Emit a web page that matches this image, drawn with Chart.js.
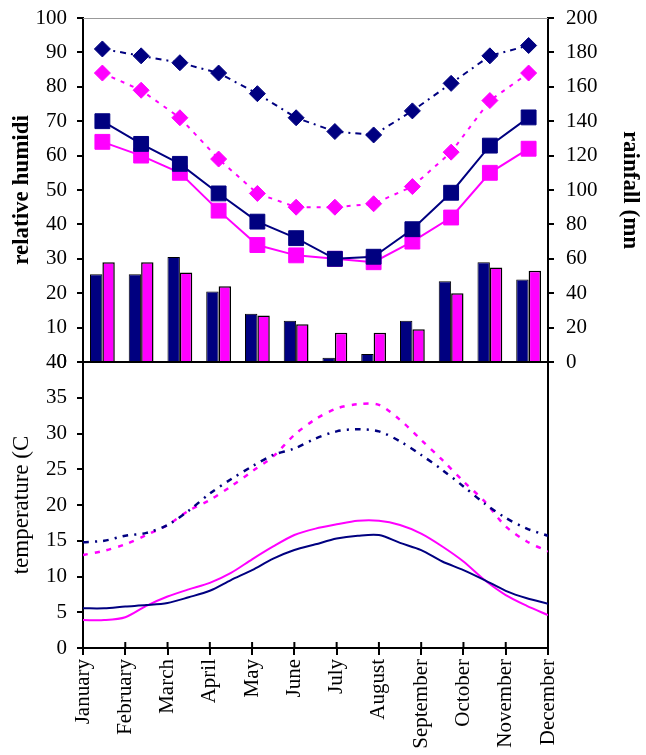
<!DOCTYPE html>
<html>
<head>
<meta charset="utf-8">
<script src="https://cdn.jsdelivr.net/npm/chart.js@4"></script>
<style>
    body { margin: 0; background: #fff; }
    #wrap { position: relative; width: 646px; height: 755px; }
    canvas { position: absolute; left: 0; }
    #top-chart { top: 0; }
    #bottom-chart { top: 340px; }
</style>
</head>
<body>
<div id="wrap">
    <canvas id="top-chart" width="646" height="380"></canvas>
    <canvas id="bottom-chart" width="646" height="415"></canvas>
</div>
<script>
const NAVY = "#000080";
const PINK = "#ff00ff";
const FONT = "'Liberation Serif', 'Times New Roman', serif";
const TICK_SIZE = 21;
const TITLE_SIZE = 23;

const months = ["January", "February", "March", "April", "May", "June", "July", "August", "September", "October", "November", "December"];

// rainfall (mm), right axis
const rainNavy = [51, 51, 61, 41, 28, 24, 2.5, 4.6, 24, 47, 58, 48];
const rainPink = [58, 58, 52, 44, 27, 22, 17, 17, 19, 40, 55, 53];

// relative humidity (%), left axis
const humNavyHigh = [91, 89, 87, 84, 78, 71, 67, 66, 73, 81, 89, 92];
const humPinkHigh = [84, 79, 71, 59, 49, 45, 45, 46, 51, 61, 76, 84];
const humNavyLow = [70, 63.4, 57.6, 49, 40.8, 36, 30, 30.6, 38.6, 49.2, 62.9, 71.1];
const humPinkLow = [64, 60, 55, 44, 34, 31, 30, 29, 35, 42, 55, 62];

// temperature (C), read every half month, position in months from January
const tempPos = [0, 0.5, 1, 1.5, 2, 2.5, 3, 3.5, 4, 4.5, 5, 5.5, 6, 6.5, 7, 7.5, 8, 8.5, 9, 9.5, 10, 10.5, 11];
const tempNavyMax = [14.8, 15.0, 15.7, 16.1, 17.2, 19.2, 21.6, 23.6, 25.4, 27.0, 27.9, 29.3, 30.3, 30.6, 30.3, 28.9, 27.0, 24.9, 22.6, 20.2, 18.2, 16.7, 15.7];
const tempPinkMax = [13.0, 13.6, 14.5, 15.8, 17.2, 19.2, 20.7, 22.6, 24.7, 26.8, 29.8, 32.0, 33.5, 34.1, 34.0, 31.9, 29.1, 26.3, 23.3, 20.5, 17.0, 14.9, 13.5];
const tempNavyMin = [5.55, 5.55, 5.8, 6.0, 6.3, 7.1, 8.0, 9.5, 10.9, 12.5, 13.7, 14.5, 15.3, 15.7, 15.8, 14.7, 13.7, 12.1, 10.9, 9.5, 8.0, 6.95, 6.2];
const tempPinkMin = [3.9, 3.9, 4.3, 5.9, 7.2, 8.2, 9.1, 10.5, 12.4, 14.2, 15.8, 16.7, 17.3, 17.8, 17.8, 17.2, 16.0, 14.2, 12.1, 9.5, 7.4, 5.9, 4.6];

Chart.defaults.font.family = FONT;
Chart.defaults.color = "#000";

function toPoints(xs, ys) {
    return xs.map((x, i) => ({x: x, y: ys[i]}));
}

// fixed axis width, and no extra room for the end labels
function fixWidth(w) {
    return function(scale) {
        scale.width = w;
        scale.paddingTop = 0;
        scale.paddingBottom = 0;
    };
}

// grey line along the top of the upper plot
const topLine = {
    id: "topLine",
    afterDraw(chart) {
        let a = chart.chartArea;
        let ctx = chart.ctx;
        ctx.save();
        ctx.strokeStyle = "#999";
        ctx.lineWidth = 1;
        ctx.beginPath();
        ctx.moveTo(a.left, a.top + 0.5);
        ctx.lineTo(a.right, a.top + 0.5);
        ctx.stroke();
        ctx.restore();
    }
};

// x ticks of the lower plot cross the axis line
const crossTicks = {
    id: "crossTicks",
    afterDraw(chart) {
        let x = chart.scales.x;
        let a = chart.chartArea;
        let ctx = chart.ctx;
        ctx.save();
        ctx.strokeStyle = "#000";
        ctx.lineWidth = 2;
        for (const t of x.ticks) {
            let px = x.getPixelForValue(t.value);
            ctx.beginPath();
            ctx.moveTo(px, a.bottom);
            ctx.lineTo(px, a.bottom - 6);
            ctx.stroke();
        }
        ctx.restore();
    }
};

function humidityLine(data, color, dash, shape, radius) {
    return {
        type: "line",
        data: data,
        yAxisID: "y",
        borderColor: color,
        backgroundColor: color,
        borderWidth: 2,
        borderDash: dash,
        pointStyle: shape,
        pointRadius: radius,
        pointBorderWidth: 1,
        pointBorderColor: color,
        pointBackgroundColor: color
    };
}

function drawTop() {
    const ctx = document.getElementById("top-chart");

    new Chart(ctx, {
        type: "bar",
        data: {
            labels: months,
            datasets: [
                humidityLine(humNavyHigh, NAVY, [6, 5, 2, 5], "rectRot", 8),
                humidityLine(humPinkHigh, PINK, [4, 6], "rectRot", 8),
                humidityLine(humNavyLow, NAVY, [], "rect", 10.5),
                humidityLine(humPinkLow, PINK, [], "rect", 10.5),
                {
                    data: rainNavy,
                    yAxisID: "y1",
                    backgroundColor: NAVY,
                    borderColor: "#000",
                    borderWidth: 1,
                    barPercentage: 1,
                    categoryPercentage: 0.64
                },
                {
                    data: rainPink,
                    yAxisID: "y1",
                    backgroundColor: PINK,
                    borderColor: "#000",
                    borderWidth: 1.5,
                    barPercentage: 1,
                    categoryPercentage: 0.64
                }
            ]
        },
        options: {
            responsive: false,
            animation: false,
            layout: { padding: { top: 18, left: 0, right: 0, bottom: 0 } },
            plugins: { legend: { display: false }, tooltip: { enabled: false } },
            scales: {
                x: {
                    ticks: { display: false },
                    grid: { display: false },
                    border: { color: "#000", width: 2 },
                    afterFit(scale) { scale.height = 18; }
                },
                y: {
                    position: "left",
                    min: 0,
                    max: 100,
                    ticks: { stepSize: 10, padding: 10, font: { size: TICK_SIZE } },
                    grid: { drawOnChartArea: false, tickLength: 6, color: "#000", lineWidth: 2 },
                    border: { color: "#000", width: 2 },
                    title: {
                        display: true,
                        text: "relative humidi",
                        font: { size: TITLE_SIZE, weight: "bold" },
                        padding: { top: 8, bottom: 0 }
                    },
                    afterFit: fixWidth(83)
                },
                y1: {
                    position: "right",
                    min: 0,
                    max: 200,
                    ticks: { stepSize: 20, padding: 12, font: { size: TICK_SIZE } },
                    grid: { drawOnChartArea: false, tickLength: 6, color: "#000", lineWidth: 2 },
                    border: { color: "#000", width: 2 },
                    title: {
                        display: true,
                        text: "rainfall (mn",
                        font: { size: TITLE_SIZE, weight: "bold" },
                        padding: { top: 2, bottom: 0 }
                    },
                    afterFit: fixWidth(98)
                }
            }
        },
        plugins: [topLine]
    });
}

function tempLine(ys, color, dash, width) {
    return {
        data: toPoints(tempPos, ys),
        borderColor: color,
        borderWidth: width,
        borderDash: dash,
        pointRadius: 0,
        tension: 0.3
    };
}

function drawBottom() {
    const ctx = document.getElementById("bottom-chart");

    new Chart(ctx, {
        type: "line",
        data: {
            datasets: [
                tempLine(tempNavyMax, NAVY, [6, 6, 2, 6], 2.5),
                tempLine(tempPinkMax, PINK, [5, 7], 2.5),
                tempLine(tempNavyMin, NAVY, [], 2),
                tempLine(tempPinkMin, PINK, [], 2)
            ]
        },
        options: {
            responsive: false,
            animation: false,
            layout: { padding: { top: 22, left: 0, right: 0, bottom: 0 } },
            plugins: { legend: { display: false }, tooltip: { enabled: false } },
            scales: {
                x: {
                    type: "linear",
                    min: 0,
                    max: 11,
                    ticks: {
                        stepSize: 1,
                        autoSkip: false,
                        maxRotation: 90,
                        minRotation: 90,
                        padding: 4,
                        font: { size: TICK_SIZE },
                        callback: (v) => months[v]
                    },
                    grid: { drawOnChartArea: false, tickLength: 7, color: "#000", lineWidth: 2 },
                    border: { color: "#000", width: 2 },
                    afterFit(scale) { scale.height = 107; }
                },
                y: {
                    min: 0,
                    max: 40,
                    ticks: { stepSize: 5, padding: 10, font: { size: TICK_SIZE } },
                    grid: { drawOnChartArea: false, tickLength: 6, color: "#000", lineWidth: 2 },
                    border: { color: "#000", width: 2 },
                    title: {
                        display: true,
                        text: "temperature (C",
                        font: { size: TITLE_SIZE },
                        padding: { top: 8, bottom: 0 }
                    },
                    afterFit: fixWidth(83)
                },
                yRight: {
                    position: "right",
                    min: 0,
                    max: 40,
                    ticks: { display: false },
                    grid: { display: false },
                    border: { color: "#000", width: 2 },
                    afterFit: fixWidth(98)
                }
            }
        },
        plugins: [crossTicks]
    });
}

drawTop();
drawBottom();
</script>
</body>
</html>
